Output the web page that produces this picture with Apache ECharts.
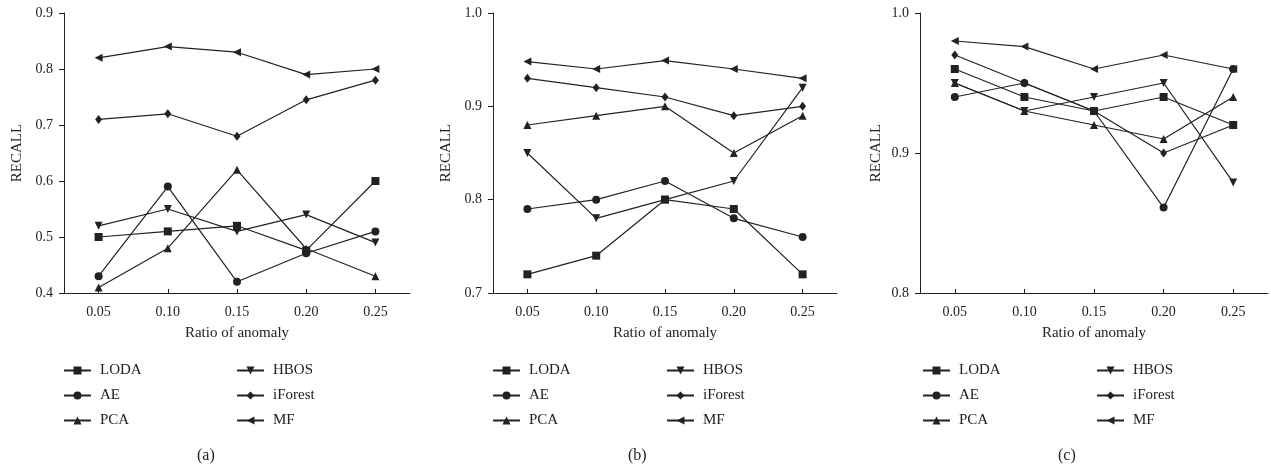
<!DOCTYPE html>
<html>
<head>
<meta charset="utf-8">
<script src="https://cdn.jsdelivr.net/npm/echarts@6/dist/echarts.min.js"></script>
<style>html,body{margin:0;padding:0;background:#fff;}#c{width:1271px;height:469px;}</style>
</head>
<body>
<div id="c"></div>
<script>
var categories = ['0.05', '0.10', '0.15', '0.20', '0.25'];
var methods = ['LODA', 'AE', 'PCA', 'HBOS', 'iForest', 'MF'];

// Panel (a)
var a_LODA    = [0.50, 0.51, 0.52, 0.476, 0.60];
var a_AE      = [0.43, 0.59, 0.42, 0.471, 0.51];
var a_PCA     = [0.41, 0.48, 0.62, 0.479, 0.43];
var a_HBOS    = [0.52, 0.55, 0.51, 0.54, 0.49];
var a_iForest = [0.71, 0.72, 0.68, 0.745, 0.78];
var a_MF      = [0.82, 0.84, 0.83, 0.79, 0.80];

// Panel (b)
var b_LODA    = [0.72, 0.74, 0.80, 0.79, 0.72];
var b_AE      = [0.79, 0.80, 0.82, 0.78, 0.76];
var b_PCA     = [0.88, 0.89, 0.90, 0.85, 0.89];
var b_HBOS    = [0.85, 0.78, 0.80, 0.82, 0.92];
var b_iForest = [0.93, 0.92, 0.91, 0.89, 0.90];
var b_MF      = [0.948, 0.94, 0.949, 0.94, 0.93];

// Panel (c)
var c_LODA    = [0.96, 0.94, 0.93, 0.94, 0.92];
var c_AE      = [0.94, 0.95, 0.93, 0.861, 0.96];
var c_PCA     = [0.95, 0.93, 0.92, 0.91, 0.94];
var c_HBOS    = [0.95, 0.93, 0.94, 0.95, 0.879];
var c_iForest = [0.97, 0.95, 0.93, 0.90, 0.92];
var c_MF      = [0.98, 0.976, 0.96, 0.97, 0.96];

var yMins = [0.4, 0.7, 0.8];
var yMaxs = [0.9, 1.0, 1.0];
var captions = ['(a)', '(b)', '(c)'];

var panelData = [
  [a_LODA, a_AE, a_PCA, a_HBOS, a_iForest, a_MF],
  [b_LODA, b_AE, b_PCA, b_HBOS, b_iForest, b_MF],
  [c_LODA, c_AE, c_PCA, c_HBOS, c_iForest, c_MF]
];

var FONT = 'Liberation Serif';
var INK = '#222';
var symbols = {
  LODA: {symbol: 'rect', size: 8, rot: 0},
  AE: {symbol: 'circle', size: 8, rot: 0},
  PCA: {symbol: 'triangle', size: 8, rot: 0},
  HBOS: {symbol: 'triangle', size: 8, rot: 180},
  iForest: {symbol: 'diamond', size: [7, 9], rot: 0},
  MF: {symbol: 'triangle', size: 8, rot: 90}
};

var grids = [
  {left: 64, width: 346, top: 13, height: 280},
  {left: 493, width: 344, top: 13, height: 280},
  {left: 920, width: 348, top: 13, height: 280}
];
var nameGaps = [39, 39, 36];
var legendPos = [
  [58, 231], [487, 661], [917, 1091]
];
var captionX = [207, 638, 1068];

var xAxes = [], yAxes = [], series = [], legends = [], graphics = [];
for (var p = 0; p < 3; p++) {
  xAxes.push({
    type: 'category', gridIndex: p, data: categories, boundaryGap: true,
    name: 'Ratio of anomaly', nameLocation: 'middle', nameGap: 33,
    nameTextStyle: {fontFamily: FONT, fontSize: 15, color: INK},
    axisLine: {lineStyle: {color: INK, width: 1}},
    axisTick: {show: true, inside: true, length: 4, alignWithLabel: true, lineStyle: {color: INK}},
    axisLabel: {fontFamily: FONT, fontSize: 14, color: INK, margin: 12},
    splitLine: {show: false}
  });
  yAxes.push({
    type: 'value', gridIndex: p, min: yMins[p], max: yMaxs[p], interval: 0.1,
    name: 'RECALL', nameLocation: 'middle', nameGap: nameGaps[p], nameRotate: 90,
    nameTextStyle: {fontFamily: FONT, fontSize: 15, color: INK},
    axisLine: {show: true, lineStyle: {color: INK, width: 1}},
    axisTick: {show: true, length: 5, lineStyle: {color: INK}},
    axisLabel: {fontFamily: FONT, fontSize: 14, color: INK, margin: 11,
      formatter: function (v) { return v.toFixed(1); }},
    splitLine: {show: false}
  });
  for (var m = 0; m < methods.length; m++) {
    var s = symbols[methods[m]];
    series.push({
      type: 'line', name: methods[m], xAxisIndex: p, yAxisIndex: p,
      data: panelData[p][m],
      symbol: s.symbol, symbolSize: s.size, symbolRotate: s.rot,
      showAllSymbol: true,
      lineStyle: {color: INK, width: 1.2},
      itemStyle: {color: INK, borderWidth: 0},
      emphasis: {disabled: true},
      animation: false
    });
  }
  legends.push({
    orient: 'vertical', left: legendPos[p][0], top: 358,
    data: methods.slice(0, 3), itemWidth: 27, itemHeight: 10, itemGap: 10,
    textStyle: {fontFamily: FONT, fontSize: 15, color: INK, padding: [0, 0, 0, 4]},
    symbolRotate: 'inherit', selectedMode: false
  });
  legends.push({
    orient: 'vertical', left: legendPos[p][1], top: 358,
    data: methods.slice(3), itemWidth: 27, itemHeight: 10, itemGap: 10,
    textStyle: {fontFamily: FONT, fontSize: 15, color: INK, padding: [0, 0, 0, 4]},
    symbolRotate: 'inherit', selectedMode: false
  });
  graphics.push({
    type: 'text', left: captionX[p] - 10, top: 448,
    style: {text: captions[p], font: '16px "' + FONT + '"', fill: INK}
  });
}

var chart = echarts.init(document.getElementById('c'), null, {renderer: 'canvas'});
chart.setOption({
  animation: false,
  backgroundColor: '#fff',
  grid: grids,
  xAxis: xAxes,
  yAxis: yAxes,
  legend: legends,
  series: series,
  graphic: graphics
});
</script>
</body>
</html>
